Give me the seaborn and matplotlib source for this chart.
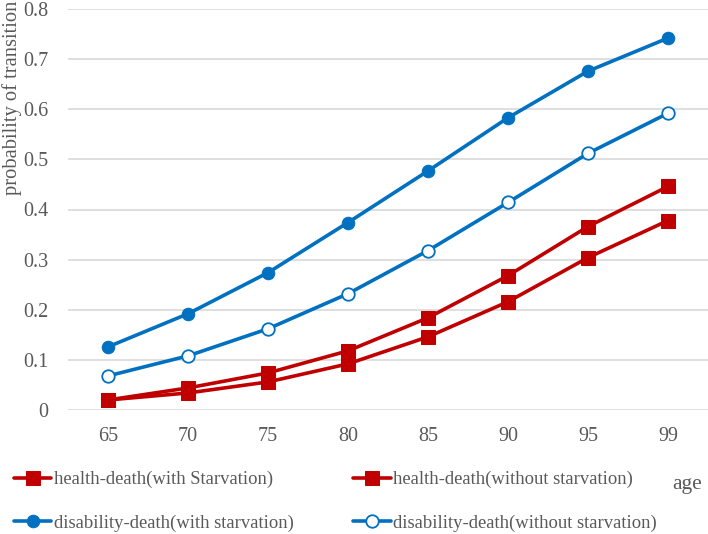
import matplotlib
matplotlib.use("Agg")
import matplotlib.pyplot as plt
import seaborn as sns
import numpy as np
import pandas as pd

ages = ["65", "70", "75", "80", "85", "90", "95", "99"]
health_with = [0.020, 0.044, 0.074, 0.118, 0.184, 0.268, 0.366, 0.446]
health_without = [0.020, 0.034, 0.056, 0.092, 0.146, 0.216, 0.304, 0.378]
disab_with = [0.126, 0.192, 0.274, 0.374, 0.477, 0.583, 0.676, 0.742]
disab_without = [0.068, 0.108, 0.162, 0.232, 0.318, 0.414, 0.512, 0.592]
yticks = [0, 0.1, 0.2, 0.3, 0.4, 0.5, 0.6, 0.7, 0.8]
ytick_labels = ["0", "0.1", "0.2", "0.3", "0.4", "0.5", "0.6", "0.7", "0.8"]

sns.set_theme(style="white")
plt.rcParams['font.family'] = ['Liberation Serif', 'DejaVu Serif']

RED = "#C00000"
BLUE = "#0070C0"
GREY = "#595959"

fig = plt.figure(figsize=(7.08, 5.34), dpi=100)
ax = fig.add_axes([68/708, 1-410/534, 640/708, (410-9)/534])

pos = np.arange(len(ages))
df = pd.DataFrame({"pos": pos, "hw": health_with, "hwo": health_without,
                   "dw": disab_with, "dwo": disab_without})

sns.lineplot(data=df, x="pos", y="dw", ax=ax, color=BLUE, lw=2.6, marker="o",
             markersize=9, markerfacecolor=BLUE, markeredgecolor=BLUE,
             label="disability-death(with starvation)")
sns.lineplot(data=df, x="pos", y="dwo", ax=ax, color=BLUE, lw=2.6, marker="o",
             markersize=9, markerfacecolor="white", markeredgecolor=BLUE, markeredgewidth=1.3,
             label="disability-death(without starvation)")
sns.lineplot(data=df, x="pos", y="hw", ax=ax, color=RED, lw=2.6, marker="s",
             markersize=10, markerfacecolor=RED, markeredgecolor=RED,
             label="health-death(with Starvation)")
sns.lineplot(data=df, x="pos", y="hwo", ax=ax, color=RED, lw=2.6, marker="s",
             markersize=10, markerfacecolor=RED, markeredgecolor=RED,
             label="health-death(without starvation)")

ax.set_xlim(-0.5, len(ages) - 0.5)
ax.set_ylim(0, 0.8)
ax.set_xticks(pos)
ax.set_xticklabels(ages)
ax.set_yticks(yticks)
ax.set_yticklabels(ytick_labels)
ax.tick_params(axis="both", length=0, labelsize=14.5, colors=GREY, pad=12)
ax.tick_params(axis="y", pad=14)
ax.grid(axis="y", color="#D9D9D9", lw=1.2)
ax.set_axisbelow(True)
for s in ax.spines.values():
    s.set_visible(False)
ax.set_xlabel("")
ax.set_ylabel("")

handles, labels = ax.get_legend_handles_labels()
ax.get_legend().remove()
order = [2, 0, 3, 1]
fig.legend([handles[i] for i in order], [labels[i] for i in order],
           loc="upper left", bbox_to_anchor=(14/708, 1-471/534), ncol=2,
           frameon=False, fontsize=13.4, labelcolor=GREY, handlelength=2.0,
           handletextpad=0.15, columnspacing=3.2, labelspacing=1.4, borderpad=0,
           borderaxespad=0)

fig.text(672/708, 1-485/534, "age", fontsize=15.5, color=GREY, ha="left", va="center")
fig.text(12/708, 1-1/534, "probability of transition", fontsize=14.8, color=GREY,
         rotation=90, ha="center", va="top")

fig.savefig("out.png", dpi=100)
